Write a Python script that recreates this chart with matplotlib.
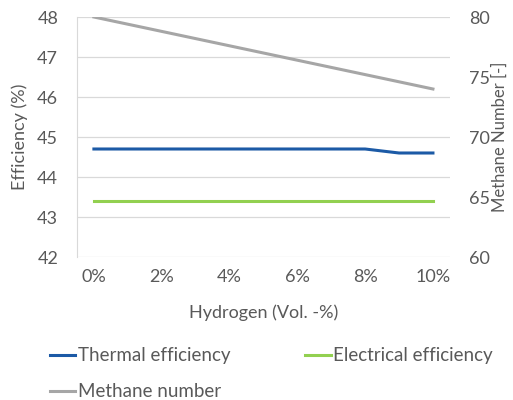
import numpy as np
import matplotlib.pyplot as plt

plt.rcParams['font.family'] = ['Lato', 'DejaVu Sans']

hydrogen = ['0%', '1%', '2%', '3%', '4%', '5%', '6%', '7%', '8%', '9%', '10%']
thermal_eff = [44.7, 44.7, 44.7, 44.7, 44.7, 44.7, 44.7, 44.7, 44.7, 44.6, 44.6]
electrical_eff = [43.4, 43.4, 43.4, 43.4, 43.4, 43.4, 43.4, 43.4, 43.4, 43.4, 43.4]
methane_no = [80.0, 79.4, 78.8, 78.2, 77.6, 77.0, 76.4, 75.8, 75.2, 74.6, 74.0]

grey = '#595959'
x = np.arange(len(hydrogen))

fig = plt.figure(figsize=(5.13, 4.0), dpi=100)
ax = fig.add_axes([0.150, 0.3575, 0.727, 0.600])
ax2 = ax.twinx()

l1, = ax.plot(x, thermal_eff, color='#1c5aa6', lw=2.2, label='Thermal efficiency')
l2, = ax.plot(x, electrical_eff, color='#92d050', lw=2.2, label='Electrical efficiency')
l3, = ax2.plot(x, methane_no, color='#a6a6a6', lw=2.2, label='Methane number')

ax.set_xlim(-0.5, 10.5)
ax.set_ylim(42, 48)
ax2.set_ylim(60, 80)
ax.set_yticks(range(42, 49))
ax2.set_yticks(range(60, 81, 5))
ax.set_xticks(x[::2])
ax.set_xticklabels(hydrogen[::2])

ax.grid(axis='y', color='#d9d9d9', lw=0.9)
ax.set_axisbelow(True)
for a in (ax, ax2):
    for s in a.spines.values():
        s.set_visible(False)
    a.tick_params(length=0, colors=grey, labelsize=13)
ax.spines['left'].set_visible(True)
ax.spines['left'].set_color('#d9d9d9')
ax.tick_params(axis='y', pad=13.5)
ax.tick_params(axis='x', pad=9)
ax2.tick_params(axis='y', pad=14)

ax.set_xlabel('Hydrogen (Vol. -%)', color=grey, fontsize=13)
ax.set_ylabel('Efficiency (%)', color=grey, fontsize=13)
ax2.set_ylabel('Methane Number [-]', color=grey, fontsize=12)
ax.xaxis.set_label_coords(0.5, -0.196)
ax.yaxis.set_label_coords(-0.131, 0.5)
ax2.yaxis.set_label_coords(1.113, 0.5)

# legend fills columns first, so order the handles for row-wise reading
fig.legend(handles=[l1, l3, l2], loc='upper left', bbox_to_anchor=(0.082, 0.150),
           ncol=2, frameon=False, fontsize=13.5, labelcolor=grey,
           handlelength=1.35, handletextpad=0.15, columnspacing=4.0,
           labelspacing=1.0, borderaxespad=0)

fig.savefig('out.png', dpi=100)
